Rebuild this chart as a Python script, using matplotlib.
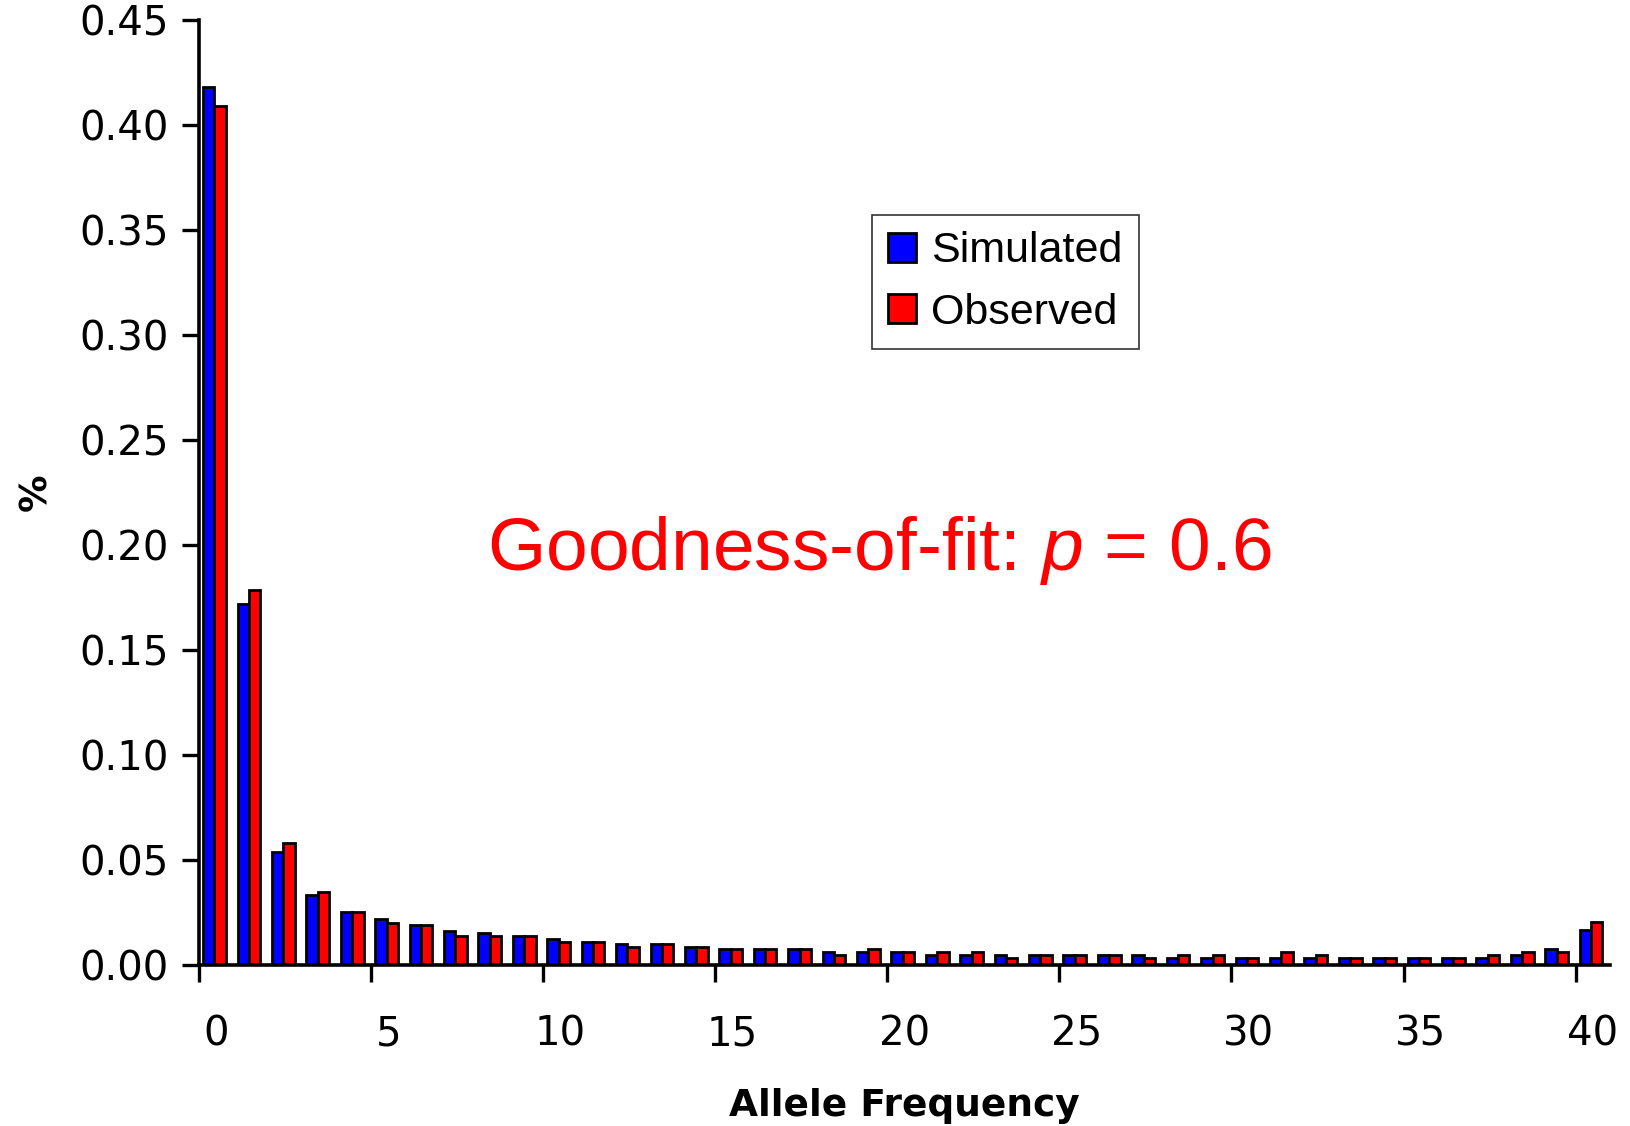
import numpy as np
import matplotlib
matplotlib.use('Agg')
import matplotlib.pyplot as plt

# allele frequency bins 0..40
bins = list(range(41))
simulated = [0.418, 0.172, 0.054, 0.0334, 0.0254, 0.0218, 0.0191, 0.0164, 0.0151, 0.0138,
             0.0126, 0.0111, 0.0098, 0.0098, 0.0087, 0.0074, 0.0074, 0.0074, 0.006, 0.006,
             0.006, 0.0048, 0.0048, 0.0048, 0.0048, 0.0048, 0.0048, 0.0048, 0.0035, 0.0035,
             0.0035, 0.0035, 0.0035, 0.0035, 0.0035, 0.0035, 0.0035, 0.0035, 0.0048, 0.0074,
             0.0165]
observed = [0.409, 0.1785, 0.058, 0.0346, 0.0254, 0.0202, 0.0191, 0.0138, 0.0138, 0.0138,
            0.0111, 0.0111, 0.0087, 0.0098, 0.0087, 0.0074, 0.0074, 0.0074, 0.0048, 0.0074,
            0.006, 0.006, 0.006, 0.0035, 0.0048, 0.0048, 0.0048, 0.0035, 0.0048, 0.0048,
            0.0035, 0.006, 0.0048, 0.0035, 0.0035, 0.0035, 0.0035, 0.0048, 0.006, 0.006,
            0.0203]
tick_labels = ['0', '5', '10', '15', '20', '25', '30', '35', '40']

plt.rcParams['mathtext.fontset'] = 'custom'
plt.rcParams['mathtext.it'] = 'Liberation Sans:italic'
plt.rcParams['mathtext.rm'] = 'Liberation Sans'

fig = plt.figure(figsize=(16.31, 11.26), dpi=100)
ax = fig.add_axes([199 / 1631, 1 - 965 / 1126, (1610 - 199) / 1631, (965 - 20) / 1126])

x = np.array(bins)
w = 0.33
ax.bar(x - 0.05 - w / 2, simulated, width=w, color='#0000FF', edgecolor='black',
       linewidth=2.0, label='Simulated')
ax.bar(x - 0.05 + w / 2, observed, width=w, color='#FF0000', edgecolor='black',
       linewidth=2.0, label='Observed')

ax.set_xlim(-0.5, 40.5)
ax.set_ylim(0, 0.45)

# tick marks sit on category boundaries, labels on category centres
ax.set_xticks(np.arange(0, 41, 5) - 0.5)
ax.set_xticklabels([])
ax.set_xticks(np.arange(0, 41, 5), minor=True)
ax.set_xticklabels(tick_labels, minor=True)
ax.tick_params(axis='x', which='minor', length=0, pad=36, labelsize=29)
ax.tick_params(axis='x', which='major', direction='out', length=12, width=2.4)

yt = np.arange(0, 0.451, 0.05)
ax.set_yticks(yt)
ax.set_yticklabels(['%.2f' % v for v in yt])
ax.tick_params(axis='y', direction='out', length=12, width=2.4, labelsize=29, pad=10)

for s in ['top', 'right']:
    ax.spines[s].set_visible(False)
for s in ['left', 'bottom']:
    ax.spines[s].set_linewidth(2.6)

ax.set_xlabel('Allele Frequency', fontsize=27, fontweight='bold', labelpad=24)
ax.set_ylabel('%', fontsize=27, fontweight='bold', labelpad=18)

leg = ax.legend(loc='upper left', bbox_to_anchor=(872 / 1631, 1 - 215 / 1126),
                bbox_transform=fig.transFigure, borderaxespad=0, fancybox=False,
                prop={'family': 'Liberation Sans', 'size': 31}, handlelength=0.65,
                handleheight=0.65, handletextpad=0.35, labelspacing=0.5,
                borderpad=0.38, framealpha=1)
leg.get_frame().set_edgecolor('#333333')
leg.get_frame().set_linewidth(1.2)

fig.text(487 / 1631, 1 - 570 / 1126, 'Goodness-of-fit: $p$ = 0.6', color='#FF0000',
         fontsize=54, family='Liberation Sans', ha='left', va='baseline')

fig.savefig('out.png', dpi=100)
